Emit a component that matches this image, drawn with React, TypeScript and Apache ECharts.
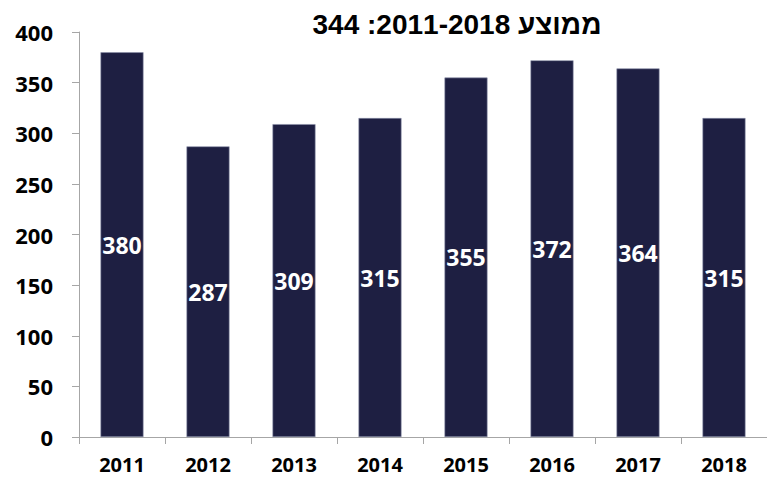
import React, { useEffect, useRef } from "react";
import * as echarts from "echarts";

const categories = ["2011", "2012", "2013", "2014", "2015", "2016", "2017", "2018"];
const values = [380, 287, 309, 315, 355, 372, 364, 315];
const yTicks = { min: 0, max: 400, interval: 50 };
const titleText = "\u202Bממוצע 2011-2018: 344\u202C";

export default function App() {
  const ref = useRef<HTMLDivElement>(null);
  useEffect(() => {
    const chart = echarts.init(ref.current!, null, { renderer: "svg" });
    chart.setOption({
      animation: false,
      backgroundColor: "#ffffff",
      title: {
        text: titleText,
        left: 452,
        top: 5,
        textAlign: "center",
        textStyle: { fontFamily: "Liberation Sans", fontWeight: "bold", fontSize: 28, color: "#000" },
      },
      grid: { left: 79, right: -6, top: 32, bottom: 42, containLabel: false },
      xAxis: {
        type: "category",
        data: categories,
        axisLine: { show: true, lineStyle: { color: "#a6a6a6", width: 1 } },
        axisTick: { show: true, length: 7, lineStyle: { color: "#a6a6a6" }, alignWithLabel: false },
        axisLabel: { color: "#000", fontWeight: "bold", fontSize: 20, fontFamily: "Open Sans", margin: 17 },
        splitLine: { show: false },
      },
      yAxis: {
        type: "value",
        min: yTicks.min,
        max: yTicks.max,
        interval: yTicks.interval,
        axisLine: { show: true, lineStyle: { color: "#a6a6a6", width: 1 } },
        axisTick: { show: true, length: 7, lineStyle: { color: "#a6a6a6" } },
        axisLabel: { color: "#000", fontWeight: "bold", fontSize: 22, fontFamily: "Open Sans", margin: 26 },
        splitLine: { show: false },
      },
      series: [
        {
          type: "bar",
          data: values,
          barWidth: "50%",
          itemStyle: { color: "#1e1f42", borderColor: "#8a8fa8", borderWidth: 0.6 },
          label: {
            show: true,
            position: "inside",
            color: "#fff",
            fontWeight: "bold",
            fontSize: 23,
            fontFamily: "Open Sans",
          },
        },
      ],
    });
    return () => chart.dispose();
  }, []);
  return <div ref={ref} style={{ position: "fixed", left: 0, top: 0, width: 767, height: 479 }} />;
}
